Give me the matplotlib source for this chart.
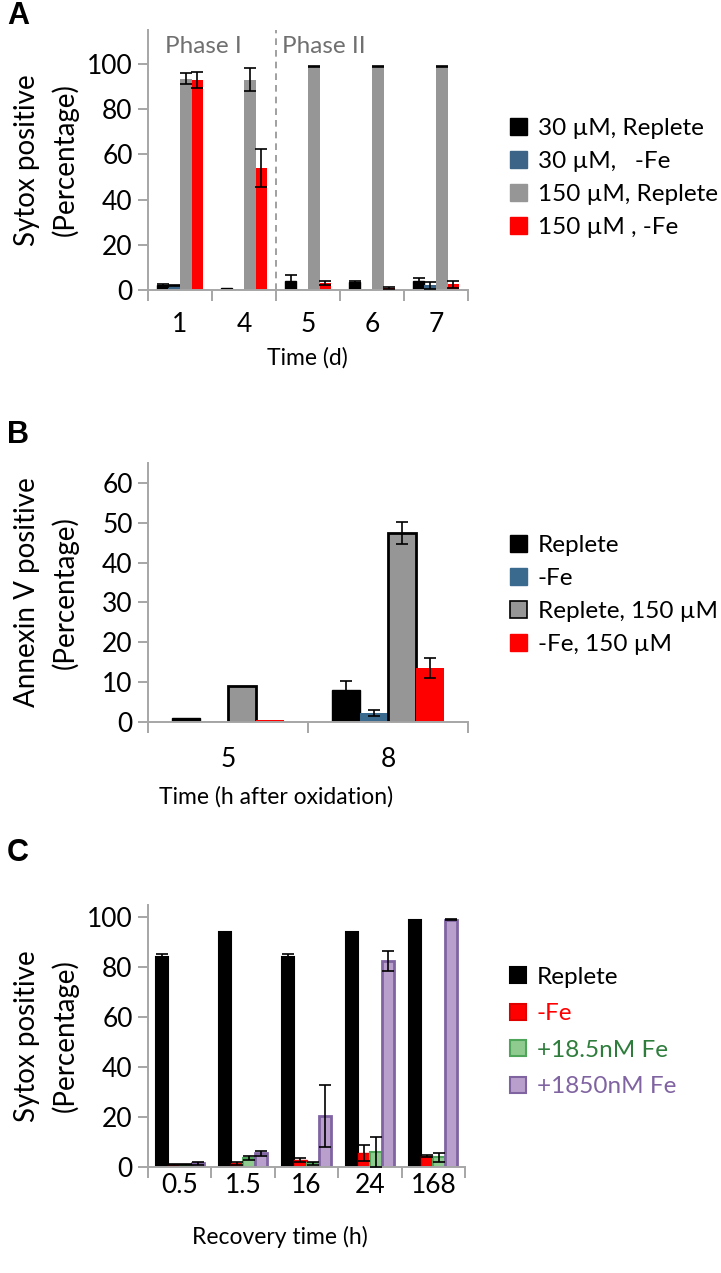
import matplotlib
matplotlib.use('Agg')
import matplotlib.pyplot as plt
from matplotlib.patches import Patch
import numpy as np

plt.rcParams['font.family'] = ['Lato', 'DejaVu Sans']

nan = np.nan

# ---- panel A data ----
a_days = ['1', '4', '5', '6', '7']
a_labels = ['30 µM, Replete', '30 µM,   -Fe', '150 µM, Replete', '150 µM , -Fe']
a_30_rep = [2.0, 1.0, 4.0, 3.5, 4.0]
a_30_rep_err = [0.5, nan, 2.5, 0.5, 1.5]
a_30_fe = [2.0, 0.5, 0.3, 0.5, 2.0]
a_30_fe_err = [0.3, nan, nan, nan, 1.5]
a_150_rep = [93.5, 93.0, 99.0, 99.0, 99.0]
a_150_rep_err = [2.5, 5.0, 0.2, 0.2, 0.2]
a_150_fe = [93.0, 54.0, 3.0, 1.0, 2.5]
a_150_fe_err = [3.5, 8.5, 1.0, 0.4, 1.5]

# ---- panel B data ----
b_times = ['5', '8']
b_labels = ['Replete', '-Fe', 'Replete, 150 µM', '-Fe, 150 µM']
b_rep = [1.0, 8.0]
b_rep_err = [nan, 2.3]
b_fe = [0.3, 2.3]
b_fe_err = [nan, 0.8]
b_rep150 = [9.0, 47.5]
b_rep150_err = [nan, 2.8]
b_fe150 = [0.5, 13.5]
b_fe150_err = [nan, 2.5]

# ---- panel C data ----
c_times = ['0.5', '1.5', '16', '24', '168']
c_labels = ['Replete', '-Fe', '+18.5nM Fe', '+1850nM Fe']
c_rep = [84.0, 94.0, 84.0, 94.0, 99.0]
c_rep_err = [1.5, nan, 1.5, nan, nan]
c_fe = [1.0, 1.5, 2.8, 5.6, 4.5]
c_fe_err = [0.3, 0.5, 0.8, 3.2, 0.3]
c_18 = [1.0, 3.5, 1.5, 6.0, 3.9]
c_18_err = [0.3, 0.8, 0.5, 6.0, 1.7]
c_1850 = [1.5, 5.5, 20.5, 82.5, 99.0]
c_1850_err = [0.5, 1.0, 12.5, 4.0, 0.2]

AX_GRAY = '#a6a6a6'
FS = 17.5      # legend / phase text
XFS = 16.5     # x axis titles
TFS = 19       # tick labels
LFS = 20       # y axis titles
H = 1273.0
W = 721.0


def style_axes(ax, ncat, cats, ylim, yticks, label_pad, width_px):
    for s in ['top', 'right']:
        ax.spines[s].set_visible(False)
    for s in ['left', 'bottom']:
        ax.spines[s].set_color(AX_GRAY)
        ax.spines[s].set_linewidth(1.4)
    ax.set_xlim(-0.5, ncat - 0.5)
    ax.set_ylim(*ylim)
    ax.set_yticks(yticks)
    ax.tick_params(axis='y', colors=AX_GRAY, length=7, width=1.4, labelsize=TFS,
                   labelcolor='black', pad=4)
    ax.set_xticks(np.arange(ncat + 1) - 0.5)
    ax.set_xticklabels([''] * (ncat + 1))
    ax.tick_params(axis='x', which='major', colors=AX_GRAY, length=8, width=1.4)
    ax.set_xticks(np.arange(ncat), minor=True)
    ax.set_xticklabels(cats, minor=True)
    ax.tick_params(axis='x', which='minor', length=0, labelsize=TFS, pad=label_pad)
    ax.yaxis.set_label_coords((79 - 148) / width_px, 0.5)


def draw_bars(ax, series, errs, colors, edges, lws, width):
    x = np.arange(len(series[0]))
    for i in range(len(series)):
        pos = x + (i - 1.5) * width
        ax.bar(pos, series[i], width, color=colors[i], edgecolor=edges[i],
               linewidth=lws[i], zorder=2)
        ax.errorbar(pos, series[i], yerr=errs[i], fmt='none', ecolor='black',
                    elinewidth=1.2, capsize=4.5, capthick=1.2, zorder=3)


def add_legend(ax, handles, labels, ycenter, spacing, size):
    return ax.legend(handles=handles, labels=labels,
                     loc='center left', bbox_to_anchor=(510 / W, 1 - ycenter / H),
                     bbox_transform=fig.transFigure, frameon=False, fontsize=FS,
                     handlelength=size, handleheight=size, handletextpad=0.45,
                     labelspacing=spacing, borderpad=0, borderaxespad=0)


def place_xlabel(ax, text, xc_px, yc_px, width_px, height_px, bottom_px):
    ax.set_xlabel(text, fontsize=XFS, va='center')
    ax.xaxis.set_label_coords((xc_px - 148) / width_px, (bottom_px - yc_px) / height_px)


fig = plt.figure(figsize=(7.21, 12.73), dpi=100)

# ---------------- A ----------------
axA = fig.add_axes([148 / W, 1 - 290 / H, 320 / W, 260 / H])
a_colors = ['#000000', '#3b6487', '#969696', '#ff0000']
draw_bars(axA, [a_30_rep, a_30_fe, a_150_rep, a_150_fe],
          [a_30_rep_err, a_30_fe_err, a_150_rep_err, a_150_fe_err],
          a_colors, a_colors, [1.0, 0, 0, 0], 0.18)
style_axes(axA, len(a_days), a_days, (0, 115), [0, 20, 40, 60, 80, 100], 16, 320)
axA.axvline(1.5, color='#909090', linestyle=(0, (4, 3)), linewidth=1.2, zorder=1)
axA.text(0.36, 107.5, 'Phase I', color='#707070', fontsize=FS, ha='center', va='center')
axA.text(2.25, 107.5, 'Phase II', color='#707070', fontsize=FS, ha='center', va='center')
axA.set_ylabel('Sytox positive\n(Percentage)', fontsize=LFS, linespacing=1.5)
place_xlabel(axA, 'Time (d)', 307, 358, 320, 260, 290)
add_legend(axA, [Patch(facecolor=c, edgecolor=c) for c in a_colors], a_labels,
           178, 0.5, 0.7)

# ---------------- B ----------------
axB = fig.add_axes([148 / W, 1 - 722 / H, 320 / W, 259 / H])
b_colors = ['#000000', '#3b6a8f', '#969696', '#ff0000']
draw_bars(axB, [b_rep, b_fe, b_rep150, b_fe150],
          [b_rep_err, b_fe_err, b_rep150_err, b_fe150_err],
          b_colors, ['#000000', '#3b6a8f', '#000000', '#ff0000'],
          [1.0, 0, 2.0, 0], 0.175)
style_axes(axB, len(b_times), b_times, (0, 65), [0, 10, 20, 30, 40, 50, 60], 18, 320)
axB.set_ylabel('Annexin V positive\n(Percentage)', fontsize=LFS, linespacing=1.5)
place_xlabel(axB, 'Time (h after oxidation)', 276, 797, 320, 259, 722)
add_legend(axB, [Patch(facecolor=b_colors[0], edgecolor=b_colors[0]),
                 Patch(facecolor=b_colors[1], edgecolor=b_colors[1]),
                 Patch(facecolor=b_colors[2], edgecolor='#000000', linewidth=1.2),
                 Patch(facecolor=b_colors[3], edgecolor=b_colors[3])],
           b_labels, 595, 0.5, 0.7)

# ---------------- C ----------------
axC = fig.add_axes([148 / W, 1 - 1167 / H, 317 / W, 262 / H])
c_colors = ['#000000', '#ff0000', '#8fcb8f', '#b9a0cc']
c_edges = ['#000000', '#e00000', '#4fa65a', '#8064a2']
draw_bars(axC, [c_rep, c_fe, c_18, c_1850],
          [c_rep_err, c_fe_err, c_18_err, c_1850_err],
          c_colors, c_edges, [1.5, 1.0, 1.5, 2.0], 0.19)
style_axes(axC, len(c_times), c_times, (0, 105), [0, 20, 40, 60, 80, 100], 4, 317)
axC.set_ylabel('Sytox positive\n(Percentage)', fontsize=LFS, linespacing=1.5)
place_xlabel(axC, 'Recovery time (h)', 280, 1237, 317, 262, 1167)
legC = add_legend(axC, [Patch(facecolor=c, edgecolor=e, linewidth=1.5)
                        for c, e in zip(c_colors, c_edges)],
                  c_labels, 1032, 0.64, 0.65)
for txt, col in zip(legC.get_texts(), ['#000000', '#ff0000', '#2e7d3c', '#8064a2']):
    txt.set_color(col)

# panel letters
for letter, ypix in [('A', 16), ('B', 435), ('C', 853)]:
    fig.text(7 / W, 1 - ypix / H, letter, fontsize=22, fontweight='bold',
             family=['Liberation Sans', 'DejaVu Sans'], ha='left', va='center')

fig.savefig('out.png', dpi=100)
